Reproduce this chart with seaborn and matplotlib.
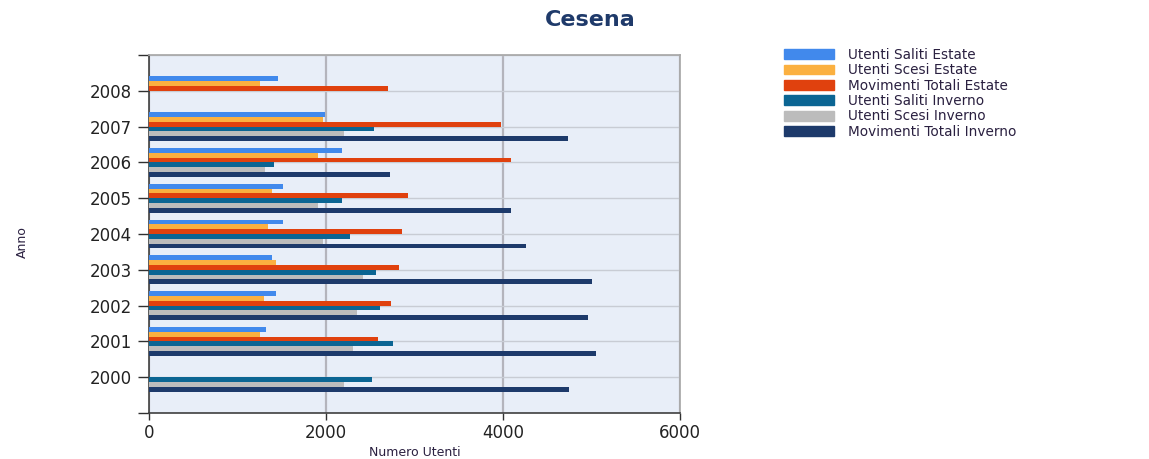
import numpy as np
import pandas as pd
import matplotlib.pyplot as plt
import seaborn as sns

sns.set_theme(style="white")
plt.rcParams['font.family'] = ['DejaVu Sans']

anni = ['2008', '2007', '2006', '2005', '2004', '2003', '2002', '2001', '2000']
serie = ['Utenti Saliti Estate', 'Utenti Scesi Estate', 'Movimenti Totali Estate',
         'Utenti Saliti Inverno', 'Utenti Scesi Inverno', 'Movimenti Totali Inverno']
colori = ['#4189ec', '#fbb040', '#e0410e', '#0b6593', '#bcbcbc', '#1d3a6b']

nan = np.nan
saliti_estate  = [1460, 1990, 2180, 1510, 1510, 1390, 1440, 1320, nan]
scesi_estate   = [1250, 1965, 1910, 1390, 1340, 1440, 1295, 1250, nan]
mov_estate     = [2705, 3980, 4095, 2925, 2855, 2830, 2730, 2590, nan]
saliti_inverno = [nan, 2545, 1410, 2180, 2275, 2565, 2610, 2755, 2515]
scesi_inverno  = [nan, 2205, 1315, 1915, 1965, 2420, 2345, 2300, 2205]
mov_inverno    = [nan, 4735, 2725, 4095, 4265, 5005, 4960, 5055, 4745]

df = pd.DataFrame({'Anno': anni,
                   serie[0]: saliti_estate, serie[1]: scesi_estate, serie[2]: mov_estate,
                   serie[3]: saliti_inverno, serie[4]: scesi_inverno, serie[5]: mov_inverno})
df = df.melt(id_vars='Anno', var_name='serie', value_name='utenti').dropna()

fig = plt.figure(figsize=(11.49, 4.59), dpi=100)
ax = fig.add_axes([149/1149, 1-413/459, (680-149)/1149, (413-55)/459])
ax.set_facecolor('#e8eef8')

sns.barplot(data=df, x='utenti', y='Anno', hue='serie', order=anni, hue_order=serie,
            palette=colori, saturation=1, orient='h', width=0.8, errorbar=None,
            linewidth=0, ax=ax, zorder=3)

ax.set_xlim(0, 6000)
ax.set_xticks([0, 2000, 4000, 6000])
ax.set_ylim(9, -1)
ax.set_yticks(range(-1, 10))
ax.set_yticklabels([''] + anni + [''])
ax.xaxis.grid(True, color='#b4b4bc', linewidth=1.6, zorder=0)
ax.yaxis.grid(True, color='#c8ccd4', linewidth=1, zorder=0)
ax.set_axisbelow(True)

for s in ['top', 'right']:
    ax.spines[s].set_color('#a8a8a8')
for s in ['left', 'bottom']:
    ax.spines[s].set_color('#404040')
    ax.spines[s].set_linewidth(1.2)

ax.tick_params(axis='y', left=True, length=8, width=1, color='#303030',
               labelsize=12, labelcolor='#222222', pad=4)
ax.tick_params(axis='x', bottom=True, length=5, width=1, color='#303030',
               labelsize=12, labelcolor='#222222', pad=3)

ax.set_xlabel('')
ax.set_ylabel('')
fig.text(415/1149, 1-452/459, 'Numero Utenti', ha='center', va='center',
         fontsize=9, color='#2a2040')
fig.text(22/1149, 1-242/459, 'Anno', ha='center', va='center', rotation=90,
         fontsize=9, color='#2a2040')

ax.get_legend().remove()
handles = [plt.Rectangle((0, 0), 1, 1, color=c) for c in colori]
fig.legend(handles, serie, loc='upper left', bbox_to_anchor=(784/1149, 1-48/459),
           frameon=False, fontsize=9.8, handlelength=3.7, handleheight=0.72,
           handletextpad=1.0, labelspacing=0.1, borderpad=0, borderaxespad=0,
           labelcolor='#2a2040')

fig.text(590/1149, 1-20/459, 'Cesena', ha='center', va='center', fontsize=16,
         fontweight='bold', color='#1f3a6a')

fig.savefig('out.png', dpi=100)
